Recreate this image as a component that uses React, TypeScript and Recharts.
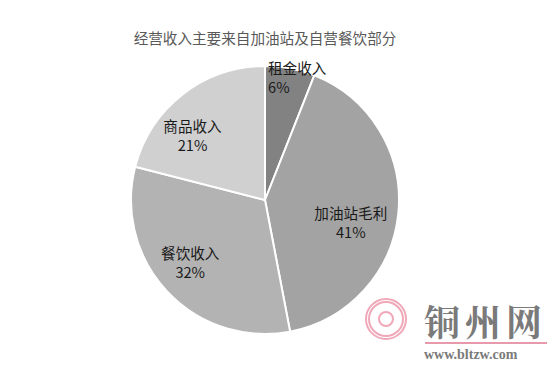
import React from "react";
import { PieChart, Pie, Cell } from "recharts";

const categories = ["租金收入", "加油站毛利", "餐饮收入", "商品收入"];
const shares = [6, 41, 32, 21];
const sliceColors = ["#828282", "#a3a3a3", "#b3b3b3", "#d0d0d0"];

const title = "经营收入主要来自加油站及自营餐饮部分";

const data = categories.map((name, i) => ({ name, value: shares[i] }));

// label placement relative to each slice: radius fraction, angle shift, anchor
const labelPlace = [
  { r: 0.925, shift: 9.4, anchor: "start" },
  { r: 0.66, shift: -8.6, anchor: "middle" },
  { r: 0.72, shift: -4, anchor: "middle" },
  { r: 0.73, shift: 10, anchor: "middle" },
];

const RADIAN = Math.PI / 180;

const renderLabel = (props: any) => {
  const { cx, cy, midAngle, outerRadius, index, name, value } = props;
  const p = labelPlace[index];
  const a = (midAngle + p.shift) * RADIAN;
  const r = outerRadius * p.r;
  const x = cx + r * Math.cos(-a);
  const y = cy + r * Math.sin(-a);
  return (
    <text
      x={x}
      y={y}
      fill="#1a1a1a"
      fontSize={14.6}
      textAnchor={p.anchor}
      dominantBaseline="central"
      fontFamily="'Noto Sans CJK SC', sans-serif"
    >
      <tspan x={x} y={y - 9}>
        {name}
      </tspan>
      <tspan x={x} y={y + 10}>
        {value}%
      </tspan>
    </text>
  );
};

export default function App() {
  return (
    <div
      style={{
        position: "absolute",
        left: 0,
        top: 0,
        width: 559,
        height: 366,
        background: "#fff",
        fontFamily: "'Noto Sans CJK SC', sans-serif",
      }}
    >
      <div
        style={{
          position: "absolute",
          top: 27,
          left: 0,
          width: 530,
          textAlign: "center",
          fontSize: 14.6,
          color: "#595959",
        }}
      >
        {title}
      </div>
      <PieChart width={559} height={366}>
        <Pie
          data={data}
          dataKey="value"
          nameKey="name"
          cx={260}
          cy={195}
          outerRadius={134}
          startAngle={90}
          endAngle={-270}
          stroke="#fff"
          strokeWidth={2}
          label={renderLabel}
          labelLine={false}
          isAnimationActive={false}
        >
          {data.map((d, i) => (
            <Cell key={d.name} fill={sliceColors[i]} />
          ))}
        </Pie>
      </PieChart>
      <div
        style={{
          position: "absolute",
          left: 365,
          top: 298,
          width: 42,
          height: 42,
          borderRadius: "50%",
          border: "5px double #f0a8b8",
          boxSizing: "border-box",
        }}
      />
      <div
        style={{
          position: "absolute",
          left: 378,
          top: 311,
          width: 16,
          height: 16,
          borderRadius: "50%",
          border: "2px solid #f0a8b8",
          boxSizing: "border-box",
        }}
      />
      <div
        style={{
          position: "absolute",
          left: 424,
          top: 302,
          fontSize: 36,
          fontWeight: "bold",
          color: "#7a7a7a",
          fontFamily: "'Noto Serif CJK SC', 'Noto Sans CJK SC', serif",
          letterSpacing: 5,
          lineHeight: "37px",
        }}
      >
        铜州网
      </div>
      <div
        style={{
          position: "absolute",
          left: 425,
          top: 342,
          width: 122,
          height: 2,
          background: "#e89aac",
        }}
      />
      <div
        style={{
          position: "absolute",
          left: 424,
          top: 348,
          fontSize: 14,
          fontWeight: "bold",
          color: "#7a7a7a",
          fontFamily: "'Liberation Serif', serif",
          lineHeight: "14px",
        }}
      >
        www.bltzw.com
      </div>
    </div>
  );
}
